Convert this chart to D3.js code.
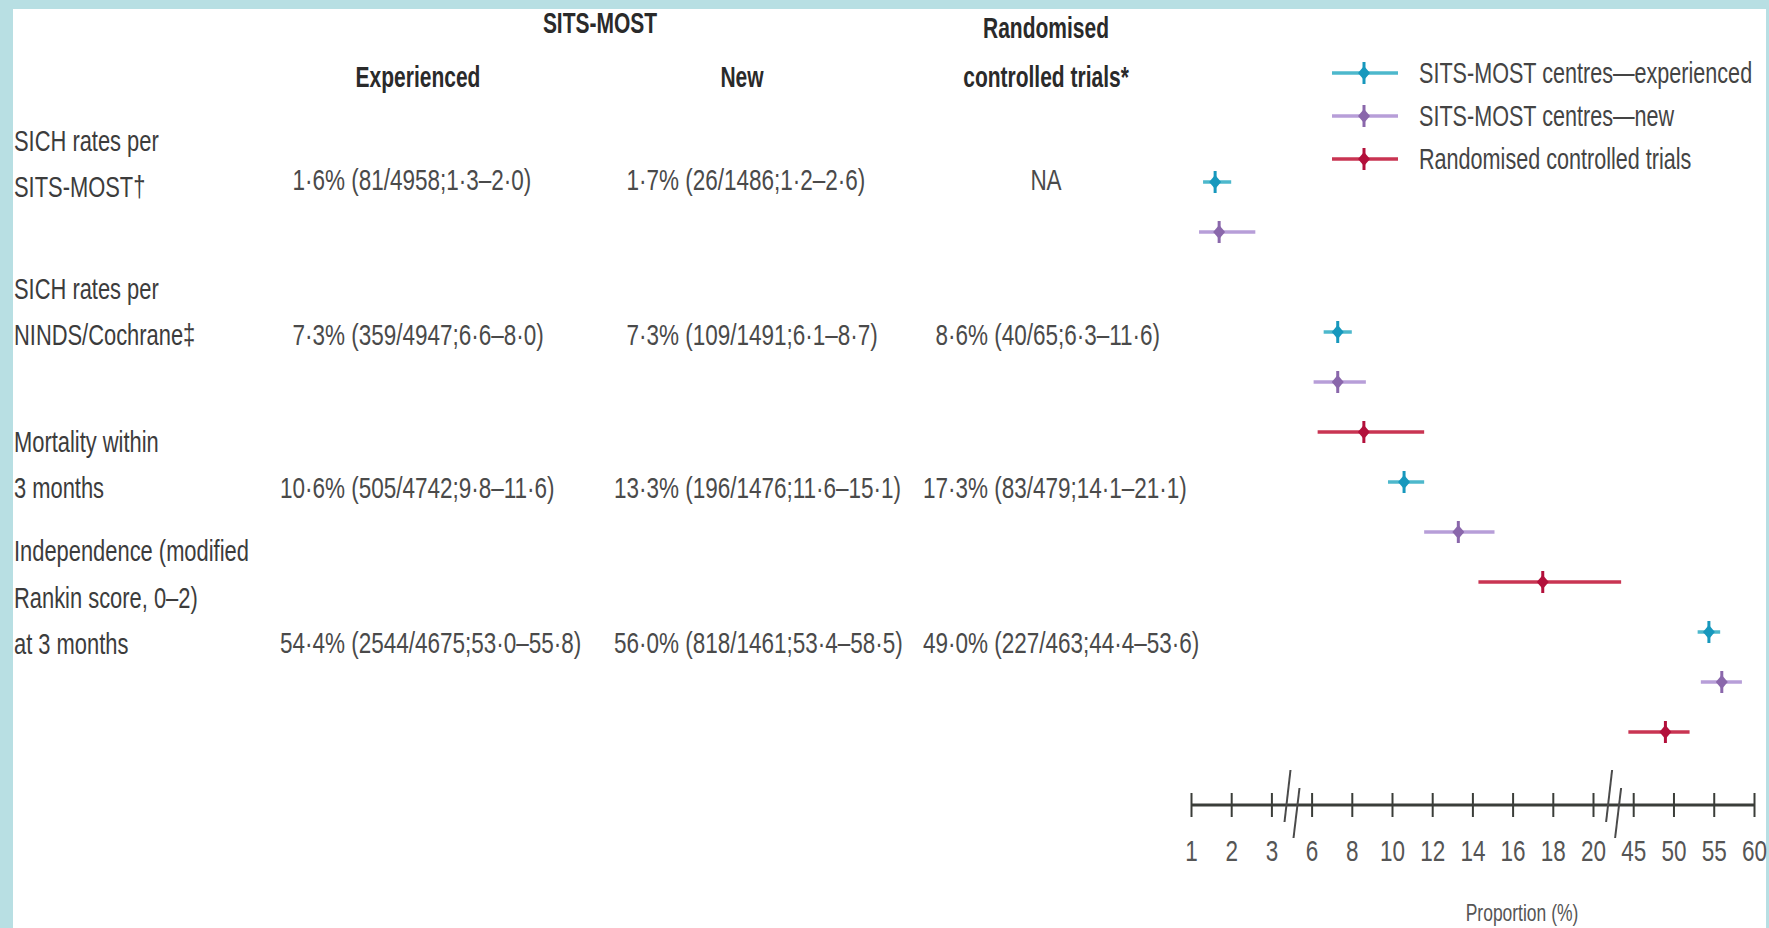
<!DOCTYPE html>
<html>
<head>
<meta charset="utf-8">
<script src="https://cdn.jsdelivr.net/npm/d3@7"></script>
<style>
  html, body { margin: 0; padding: 0; background: #fff; }
  svg { display: block; }
  text { font-family: "Liberation Sans", Arial, sans-serif; }
</style>
</head>
<body>
<div id="chart"></div>
<script>

// row labels of the table (one list of lines per outcome)
var outcomeLabels = [
  ["SICH rates per", "SITS-MOST†"],
  ["SICH rates per", "NINDS/Cochrane‡"],
  ["Mortality within", "3 months"],
  ["Independence (modified", "Rankin score, 0–2)", "at 3 months"]
];

var seriesNames = ["SITS-MOST centres—experienced", "SITS-MOST centres—new", "Randomised controlled trials"];

// table text per column
var experiencedText = ["1·6% (81/4958;1·3–2·0)", "7·3% (359/4947;6·6–8·0)", "10·6% (505/4742;9·8–11·6)", "54·4% (2544/4675;53·0–55·8)"];
var newText = ["1·7% (26/1486;1·2–2·6)", "7·3% (109/1491;6·1–8·7)", "13·3% (196/1476;11·6–15·1)", "56·0% (818/1461;53·4–58·5)"];
var rctText = ["NA", "8·6% (40/65;6·3–11·6)", "17·3% (83/479;14·1–21·1)", "49·0% (227/463;44·4–53·6)"];

// plotted proportions (%) as drawn: estimate, lower and upper end
var experiencedEst = [1.6, 7.3, 10.6, 54.4];
var experiencedLo = [1.3, 6.6, 9.8, 53.0];
var experiencedHi = [2.0, 8.0, 11.6, 55.8];
var newEst = [1.7, 7.3, 13.3, 56.0];
var newLo = [1.2, 6.1, 11.6, 53.4];
var newHi = [2.6, 8.7, 15.1, 58.5];
var rctEst = [null, 8.6, 17.5, 49.0];
var rctLo = [null, 6.3, 14.3, 44.4];
var rctHi = [null, 11.6, 21.4, 52.0];

// axis ticks, one list per piece of the broken axis
var ticksLow = [1, 2, 3];
var ticksMid = [6, 8, 10, 12, 14, 16, 18, 20];
var ticksHigh = [45, 50, 55, 60];

window.onload = function () {
  draw();
};

function draw() {

  var width = 1769, height = 928;
  var fs = 30;      // body font size
  var sx = 0.75;    // text is set condensed

  var colours = [
    {line: "#4db8cc", mark: "#1798bd"},
    {line: "#b79ed8", mark: "#8a67ab"},
    {line: "#c93452", mark: "#b3103b"}
  ];

  var svg = d3.select("#chart")
              .append("svg")
                .attr("width", width)
                .attr("height", height);

  // light blue frame
  svg.append("rect")
     .attr("width", width)
     .attr("height", height)
     .attr("fill", "#b8dfe3");
  svg.append("rect")
     .attr("x", 13)
     .attr("y", 9)
     .attr("width", width - 16)
     .attr("height", height - 9)
     .attr("fill", "#fff");

  // helper to put condensed text
  function put(g, str, x, y, opts) {
    opts = opts || {};
    return g.append("text")
            .attr("transform", "translate(" + x + "," + y + ") scale(" + (opts.sx || sx) + ",1)")
            .attr("text-anchor", opts.anchor || "start")
            .attr("font-size", opts.size || fs)
            .attr("font-weight", opts.weight || "normal")
            .attr("fill", opts.fill || "#444")
            .text(str);
  }

  var table = svg.append("g").attr("class", "table");

  // column headings
  var colCentre = [418, 742, 1046];
  var decimalX = [305, 639, 948];
  var head = {anchor: "middle", fill: "#2a2a2a", weight: "bold", sx: 0.7};
  put(table, "SITS-MOST", 600, 33, head);
  put(table, "Randomised", colCentre[2], 38, head);
  put(table, "Experienced", colCentre[0], 87, head);
  put(table, "New", colCentre[1], 87, head);
  put(table, "controlled trials*", colCentre[2], 87, head);

  // row labels
  var labelLast = [197, 345, 498, 654];
  var lineGap = 46.5;
  outcomeLabels.forEach(function (lines, i) {
    lines.forEach(function (line, j) {
      put(table, line, 14, labelLast[i] - (lines.length - 1 - j) * lineGap, {fill: "#3c3c3c", sx: 0.73});
    });
  });

  // values, lined up on the decimal point
  var valueY = [190, 345, 498, 653];
  [experiencedText, newText, rctText].forEach(function (col, c) {
    col.forEach(function (str, i) {
      var k = str.indexOf("·");
      if (k < 0) {
        put(table, str, colCentre[c], valueY[i], {anchor: "middle", fill: "#4a4a4a"});
        return;
      }
      put(table, str.slice(0, k), decimalX[c], valueY[i], {anchor: "end", fill: "#4a4a4a"});
      put(table, str.slice(k), decimalX[c], valueY[i], {fill: "#4a4a4a"});
    });
  });

  // broken x scale, three linear pieces
  var xLow = d3.scaleLinear().domain([1, 3]).range([1191, 1271.4]);
  var xMid = d3.scaleLinear().domain([6, 20]).range([1311.6, 1593]);
  var xHigh = d3.scaleLinear().domain([45, 60]).range([1633.2, 1754]);
  function x(v) {
    if (v < 4.5) return xLow(v);
    if (v < 32) return xMid(v);
    return xHigh(v);
  }

  // one slot per outcome and series
  var slots = d3.range(outcomeLabels.length * seriesNames.length);
  var y = d3.scalePoint().domain(slots).range([182, 732]);

  var est = [experiencedEst, newEst, rctEst];
  var lo = [experiencedLo, newLo, rctLo];
  var hi = [experiencedHi, newHi, rctHi];

  var points = [];
  outcomeLabels.forEach(function (d, i) {
    seriesNames.forEach(function (s, k) {
      if (est[k][i] == null) return;
      points.push({slot: i * 3 + k, series: k, est: est[k][i], lo: lo[k][i], hi: hi[k][i]});
    });
  });

  var plot = svg.append("g").attr("class", "plot");

  function marker(g, cx, cy, k) {
    g.append("line")
     .attr("x1", cx).attr("x2", cx)
     .attr("y1", cy - 11).attr("y2", cy + 11)
     .attr("stroke", colours[k].mark)
     .attr("stroke-width", 3);
    g.append("path")
     .attr("d", "M" + cx + "," + (cy - 7) + "L" + (cx + 6) + "," + cy + "L" + cx + "," + (cy + 7) + "L" + (cx - 6) + "," + cy + "Z")
     .attr("fill", colours[k].mark);
  }

  points.forEach(function (p) {
    plot.append("line")
        .attr("x1", x(p.lo))
        .attr("x2", x(p.hi))
        .attr("y1", y(p.slot))
        .attr("y2", y(p.slot))
        .attr("stroke", colours[p.series].line)
        .attr("stroke-width", 3.5);
    marker(plot, x(p.est), y(p.slot), p.series);
  });

  // axis
  var axisY = 805;
  var axisG = svg.append("g").attr("class", "axis");
  axisG.append("line")
       .attr("x1", xLow(1)).attr("x2", xHigh(60))
       .attr("y1", axisY).attr("y2", axisY)
       .attr("stroke", "#3a3d39")
       .attr("stroke-width", 3);

  [[xLow, ticksLow], [xMid, ticksMid], [xHigh, ticksHigh]].forEach(function (a) {
    var g = axisG.append("g")
                 .attr("transform", "translate(0," + (axisY - 12) + ")")
                 .call(d3.axisBottom(a[0]).tickValues(a[1]).tickSize(24).tickPadding(23).tickFormat(d3.format("d")));
    g.select(".domain").remove();
    g.selectAll(".tick line").attr("stroke", "#3a3d39").attr("stroke-width", 2);
    g.selectAll(".tick text")
     .attr("font-size", 30)
     .attr("font-family", "Liberation Sans, Arial, sans-serif")
     .attr("fill", "#555")
     .attr("transform", "scale(0.75,1)");
  });

  // break marks
  [(xLow(3) + xMid(6)) / 2, (xMid(20) + xHigh(45)) / 2].forEach(function (m) {
    axisG.append("line")
         .attr("x1", m - 1).attr("y1", axisY - 35)
         .attr("x2", m - 7).attr("y2", axisY + 17)
         .attr("stroke", "#4a4a4a").attr("stroke-width", 2);
    axisG.append("line")
         .attr("x1", m + 8).attr("y1", axisY - 17)
         .attr("x2", m + 2).attr("y2", axisY + 33)
         .attr("stroke", "#4a4a4a").attr("stroke-width", 2);
  });

  put(axisG, "Proportion (%)", 1522, 921, {anchor: "middle", size: 23, fill: "#555", sx: 0.76});

  // legend
  var legendY = [73, 116, 159];
  var legend = svg.append("g").attr("class", "legend");
  seriesNames.forEach(function (s, k) {
    legend.append("line")
          .attr("x1", 1332).attr("x2", 1398)
          .attr("y1", legendY[k]).attr("y2", legendY[k])
          .attr("stroke", colours[k].line)
          .attr("stroke-width", 3.5);
    marker(legend, 1364, legendY[k], k);
    put(legend, s, 1419, legendY[k] + 10, {fill: "#444", sx: 0.72});
  });
}

</script>
</body>
</html>
